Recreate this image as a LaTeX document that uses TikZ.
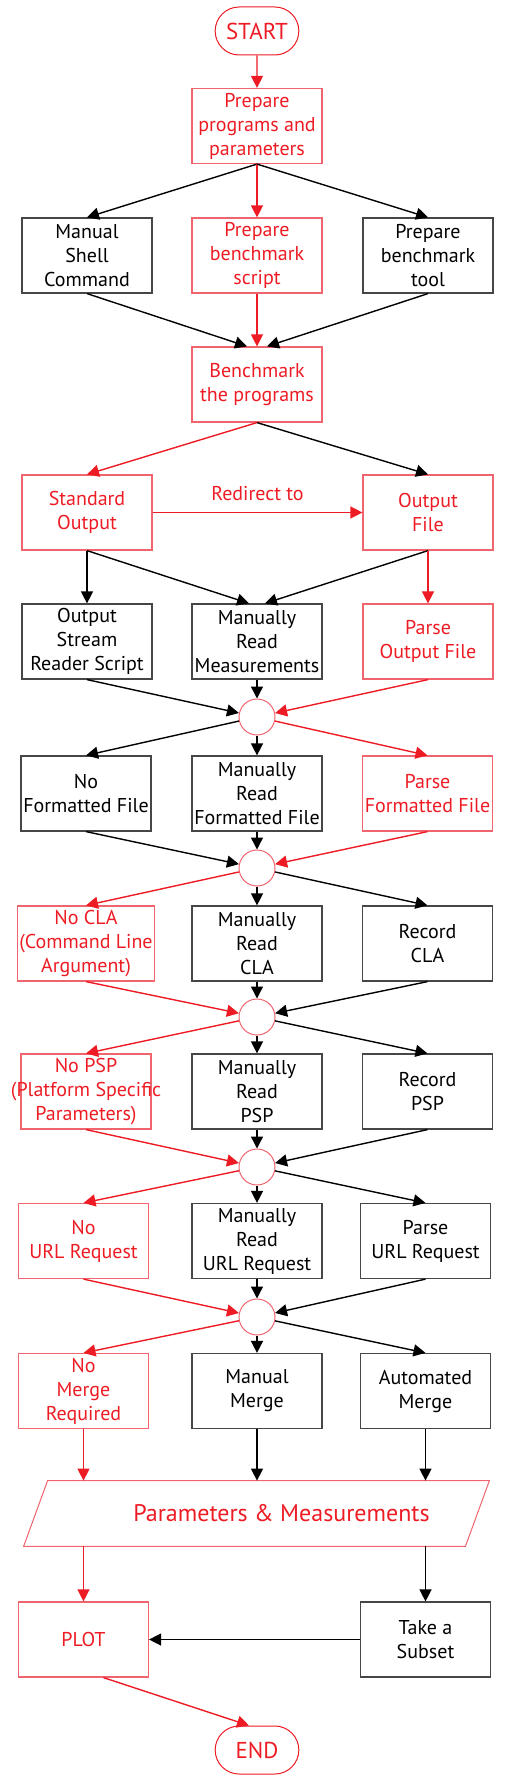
\documentclass[tikz,border=0pt]{standalone}
\usepackage{fontspec}
\setmainfont{PT Sans}
\usepackage{tikz}
\usetikzlibrary{shapes.geometric,shapes.misc,arrows.meta,positioning}

\definecolor{flowred}{RGB}{237,28,36}
\definecolor{edgered}{RGB}{240,100,110}
\definecolor{edgegray}{RGB}{70,70,70}

\tikzset{
  box/.style={draw=edgegray,line width=0.6pt,minimum width=65pt,minimum height=37.5pt,
    align=center,inner sep=1pt,font=\fontsize{10}{12}\selectfont},
  redbox/.style={box,draw=edgered,text=flowred},
  junction/.style={circle,draw=edgered,line width=0.5pt,minimum size=18pt,inner sep=0pt},
  terminal/.style={rounded rectangle,draw=flowred,line width=0.5pt,text=flowred,
    minimum width=48.5pt,minimum height=24pt,font=\fontsize{11.5}{14}\selectfont},
  flow/.style={-{Triangle[length=6pt,width=6pt]},line width=0.7pt},
  blk/.style={flow,black},
  rd/.style={flow,flowred}
}

\begin{document}
\begin{tikzpicture}[x=0.5pt,y=-0.5pt]
        \useasboundingbox (0,0) rectangle (504,1780);
        % start and preparation
        \node[terminal] (start) at (257,31) {START};
        \node[redbox] (prep) at (257,126) {Prepare\\programs and\\parameters};
        \node[box] (shell) at (87,255.5) {Manual\\Shell\\Command};
        \node[redbox] (script) at (257,255.5) {Prepare\\benchmark\\script};
        \node[box] (tool) at (428,255.5) {Prepare\\benchmark\\tool};
        \node[redbox] (bench) at (257,384.5) {Benchmark\\the programs};
        % output
        \node[redbox] (stdout) at (87,512.5) {Standard\\Output};
        \node[redbox] (outfile) at (428,512.5) {Output\\File};
        \node[box] (reader) at (87,641.5) {Output\\Stream\\Reader Script};
        \node[box] (readmeas) at (257,641.5) {Manually\\Read\\Measurements};
        \node[redbox] (parseout) at (428,641.5) {Parse\\Output File};
        \node[junction] (j1) at (257,717) {};
        % formatted file
        \node[box] (noform) at (86,793.5) {No\\Formatted File};
        \node[box] (readform) at (257,793.5) {Manually\\Read\\Formatted File};
        \node[redbox] (parseform) at (427.5,793.5) {Parse\\Formatted File};
        \node[junction] (j2) at (257,868) {};
        % command line argument
        \node[redbox] (nocla) at (86,943.5) {No CLA\\(Command Line\\Argument)};
        \node[box] (readcla) at (257,943.5) {Manually\\Read\\CLA};
        \node[box] (reccla) at (427.5,943.5) {Record\\CLA};
        \node[junction] (j3) at (257,1017) {};
        % platform specific parameters
        \node[redbox] (nopsp) at (86,1091.5) {No PSP\\\makebox[60pt]{(Platform Specific}\\Parameters)};
        \node[box] (readpsp) at (257,1091.5) {Manually\\Read\\PSP};
        \node[box] (recpsp) at (427.5,1091.5) {Record\\PSP};
        \node[junction] (j4) at (257,1167) {};
        % url request
        \node[redbox] (nourl) at (83.5,1241) {No\\URL Request};
        \node[box] (readurl) at (257,1241) {Manually\\Read\\URL Request};
        \node[box] (parseurl) at (425.5,1241) {Parse\\URL Request};
        \node[junction] (j5) at (257,1317) {};
        % merge
        \node[redbox] (nomerge) at (83.5,1391) {No\\Merge\\Required};
        \node[box] (manmerge) at (257,1391) {Manual\\Merge};
        \node[box] (automerge) at (425.5,1391) {Automated\\Merge};
        \node[text=flowred,minimum width=220.5pt,minimum height=32.5pt,inner sep=0pt,
          font=\fontsize{12}{14}\selectfont] (params) at (256.5,1513.5)
          {\hspace*{25pt}Parameters \& Measurements};
        \draw[edgered,line width=0.5pt] ([xshift=6pt]params.north west) -- ([xshift=6pt]params.north east)
          -- ([xshift=-6pt]params.south east) -- ([xshift=-6pt]params.south west) -- cycle;
        % plot and end
        \node[redbox] (plot) at (83.5,1639.5) {PLOT};
        \node[box] (subset) at (425.5,1639.5) {Take a\\Subset};
        \node[terminal] (end) at (257,1750) {END};

        % connectors
        \draw[rd] (start) -- (prep);
        \draw[blk] (prep.south) -- (shell.north);
        \draw[rd] (prep) -- (script);
        \draw[blk] (prep.south) -- (tool.north);
        \draw[blk] (shell.south) -- ([xshift=-5pt]bench.north);
        \draw[rd] (script) -- (bench);
        \draw[blk] (tool.south) -- ([xshift=5pt]bench.north);
        \draw[rd] (bench.south) -- (stdout.north);
        \draw[blk] (bench.south) -- (outfile.north);
        \draw[rd] (stdout) -- node[above=2pt,font=\fontsize{10}{12}\selectfont]{Redirect to} (outfile);
        \draw[blk] (stdout) -- (reader);
        \draw[blk] (stdout.south) -- ([xshift=-4pt]readmeas.north);
        \draw[blk] (outfile.south) -- ([xshift=4pt]readmeas.north);
        \draw[rd] (outfile) -- (parseout);
        \draw[blk] (reader.south) -- (j1);
        \draw[blk] (readmeas) -- (j1);
        \draw[rd] (parseout.south) -- (j1);
        \draw[blk] (j1) -- (noform.north);
        \draw[blk] (j1) -- (readform);
        \draw[rd] (j1) -- (parseform.north);
        \draw[blk] (noform.south) -- (j2);
        \draw[blk] (readform) -- (j2);
        \draw[rd] (parseform.south) -- (j2);
        \draw[rd] (j2) -- (nocla.north);
        \draw[blk] (j2) -- (readcla);
        \draw[blk] (j2) -- (reccla.north);
        \draw[rd] (nocla.south) -- (j3);
        \draw[blk] (readcla) -- (j3);
        \draw[blk] (reccla.south) -- (j3);
        \draw[rd] (j3) -- (nopsp.north);
        \draw[blk] (j3) -- (readpsp);
        \draw[blk] (j3) -- (recpsp.north);
        \draw[rd] (nopsp.south) -- (j4);
        \draw[blk] (readpsp) -- (j4);
        \draw[blk] (recpsp.south) -- (j4);
        \draw[rd] (j4) -- (nourl.north);
        \draw[blk] (j4) -- (readurl);
        \draw[blk] (j4) -- (parseurl.north);
        \draw[rd] (nourl.south) -- (j5);
        \draw[blk] (readurl) -- (j5);
        \draw[blk] (parseurl.south) -- (j5);
        \draw[rd] (j5) -- (nomerge.north);
        \draw[blk] (j5) -- (manmerge);
        \draw[blk] (j5) -- (automerge.north);
        \draw[rd] (nomerge.south) -- (nomerge.south |- params.north);
        \draw[blk] (manmerge.south) -- (manmerge.south |- params.north);
        \draw[blk] (automerge.south) -- (automerge.south |- params.north);
        \draw[rd] (plot.north |- params.south) -- (plot.north);
        \draw[blk] (subset.north |- params.south) -- (subset.north);
        \draw[blk] (subset) -- (plot);
        \draw[rd] ([xshift=10pt]plot.south) -- ([xshift=-4pt]end.north);
      \end{tikzpicture}
\end{document}
